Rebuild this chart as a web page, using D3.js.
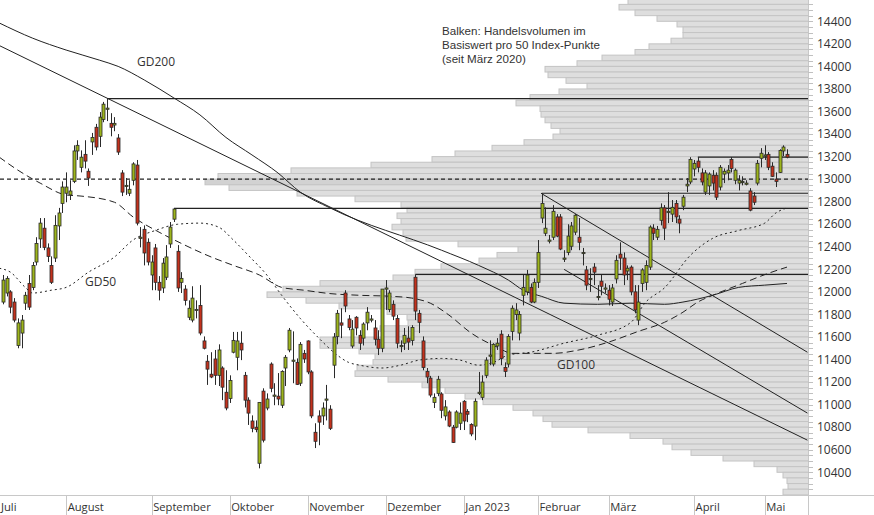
<!DOCTYPE html>
<html><head><meta charset="utf-8">
<script src="https://cdn.jsdelivr.net/npm/d3@7"></script>
<style>
body{margin:0;background:#fff}
svg{display:block}
text{font-family:"Open Sans","Noto Sans",sans-serif;fill:#333}
</style>
</head><body>
<svg id="chart" width="874" height="515"></svg>
<script>
// ---------- DATA ----------
const open  = [11910,11990,12000,11910,11525,11635,11900,12075,12040,12265,12470,12565,12390,12235,12300,12585,12785,12875,12860,12980,
13250,13105,13220,13070,13330,13460,13380,13530,13620,13495,13480,13365,13055,12940,12875,12990,13125,12475,12555,12440,
12150,12390,12085,12035,12130,12425,12645,12360,12085,12025,11775,11750,11840,11880,11565,11385,11270,11405,11260,11325,
11110,11055,11465,11420,11545,11260,11040,10855,10800,10480,11120,10970,11360,11075,11075,10995,11325,11485,11385,11375,
11190,11455,11565,11290,10755,10900,10900,11040,10960,11350,11605,11725,11990,11760,11520,11775,11615,11590,11725,11750,
11680,11580,11500,12025,11845,11890,11765,11520,11545,11590,11570,12130,11810,11565,11295,11235,11020,11100,11095,10900,
10935,10800,10800,10835,11030,10940,10825,10810,11100,11065,11260,11430,11360,11520,11625,11330,11360,11650,11800,11635,
11970,12000,12040,11910,12085,12655,12520,12450,12485,12665,12665,12290,12350,12405,12530,12485,12345,12195,12115,12220,
11955,12095,12025,12015,11910,12115,12335,12300,12185,12220,12000,11750,12075,12085,12220,12565,12485,12635,12745,12705,
12690,12785,12645,12760,12940,12975,13090,13160,13055,12885,12940,13035,13035,12930,13045,13055,13175,12990,12965,12975,
12960,12895,12850,12965,13185,13205,13220,13115,13000,13060,13250,13220];
const high  = [12150,12140,12015,11945,11765,11795,12000,12150,12265,12485,12655,12655,12430,12315,12680,12745,12980,13060,12990,13300,
13345,13255,13345,13095,13410,13490,13595,13685,13715,13585,13550,13400,13080,13010,12990,13150,13170,12575,12590,12475,
12325,12425,12140,12300,12415,12620,12740,12415,12175,12060,11925,12050,11925,12060,11605,11440,11465,11485,11535,11340,
11305,11260,11645,11645,11650,11290,11065,10905,10860,11020,11145,11100,11375,11190,11280,11305,11440,11680,11650,11410,
11555,11485,11570,11305,10835,10950,11020,11175,10995,11635,11840,11855,12015,11795,11750,11785,11660,11730,11865,11795,
11750,11660,12025,12105,12015,11925,11795,11570,11680,11695,11705,12155,11840,11605,11325,11255,11100,11255,11110,11040,
10950,10820,10950,11020,11040,10960,10835,11055,11290,11260,11420,11570,11545,11590,11660,11375,11625,11880,11900,11830,
12150,12195,12075,12120,12460,12875,12750,12505,12770,12690,12690,12370,12600,12620,12690,12655,12390,12230,12210,12255,
12060,12150,12075,12060,12070,12325,12440,12350,12235,12235,12060,12060,12210,12280,12590,12600,12585,12785,12770,12885,
12815,12815,12680,12860,13010,13195,13170,13195,13095,13080,13060,13080,13060,13125,13095,13125,13195,13095,13035,13025,
12990,12920,12885,13170,13275,13300,13240,13150,13060,13265,13300,13265];
const low   = [11890,11960,11810,11730,11500,11500,11840,11840,12015,12235,12390,12370,12265,12070,12265,12460,12700,12795,12815,12965,
13170,13060,13095,12940,13215,13255,13285,13505,13515,13380,13425,13215,12850,12860,12850,12945,12590,12395,12235,12235,
12015,12015,11925,11990,12105,12390,12620,12000,11990,11880,11750,11730,11765,11615,11490,11175,11235,11175,11165,11040,
10950,11015,11455,11305,11395,10975,10820,10755,10755,10435,10665,10950,11110,10995,10995,10970,11165,11465,11190,11175,
11165,11370,11270,10880,10615,10640,10820,10860,10775,11235,11535,11590,11820,11660,11500,11615,11485,11525,11660,11730,
11525,11440,11465,11840,11820,11750,11500,11465,11485,11485,11525,11750,11635,11305,11190,11065,10970,11075,10880,10860,
10800,10660,10790,10775,10775,10845,10720,10685,11085,11040,11235,11350,11340,11485,11350,11245,11330,11570,11750,11570,
11880,11970,11900,11900,12035,12610,12495,12430,12460,12485,12370,12265,12325,12370,12505,12370,12235,12015,12000,12060,
11925,11970,11990,11880,11875,12075,12195,12060,12105,11970,11810,11705,12000,12015,12195,12460,12460,12590,12460,12610,
12620,12610,12520,12725,12885,12955,13025,13060,12945,12860,12860,12900,12815,12900,12965,12990,13060,12955,12900,12945,
12945,12715,12770,12945,13105,13170,13080,13020,12930,13055,13205,13185];
const close = [12105,12120,11865,11750,11725,11750,11970,11865,12235,12430,12610,12395,12315,12085,12590,12700,12930,12930,12895,13250,
13300,13195,13160,13010,13370,13285,13550,13665,13630,13460,13495,13240,12885,12945,12910,13135,12610,12485,12345,12265,
12265,12085,12015,12255,12310,12575,12735,12035,12120,11925,11855,11945,11845,11635,11500,11315,11245,11260,11485,11155,
10970,11215,11570,11565,11485,11040,10925,10790,10780,11020,10685,11050,11145,11085,11050,11295,11420,11660,11395,11180,
11535,11405,11290,10900,10675,10845,10970,11050,10790,11600,11810,11705,11875,11685,11670,11680,11545,11715,11820,11760,
11580,11500,12025,12035,11990,11785,11545,11525,11615,11555,11685,11830,11730,11330,11245,11085,11065,11225,10950,10980,
10810,10665,10935,10925,10855,10915,10740,11030,11110,11200,11395,11440,11535,11545,11410,11295,11605,11855,11840,11800,
12040,12150,11910,12085,12350,12785,12565,12460,12715,12495,12380,12300,12495,12585,12680,12440,12350,12060,12120,12175,
11960,12050,12035,11935,12035,12280,12300,12150,12210,12000,11840,11910,12195,12235,12575,12520,12555,12745,12565,12715,
12750,12665,12610,12840,12955,13175,13140,13105,12975,13055,13045,12965,12840,13105,13070,13080,13095,13080,12990,12980,
12965,12725,12795,13140,13230,13215,13105,13025,12980,13255,13285,13195];

// month axis (index of first trading day of month)
const monthLabels = ["Juli","August","September","Oktober","November","Dezember","Jan 2023","Februar","März","April","Mai"];
const monthStart  = [-1,17,40,61,82,103,124,144,163,186,205];

// price axis labels
const yTickValues = d3.range(10400, 14401, 200);

// volume profile: lower bound of each 50-point band and relative volume
const volBand = [14550,14500,14450,14400,14350,14300,14250,14200,14150,14100,14050,14000,13950,13900,13850,13800,13750,13700,13650,13600,
13550,13500,13450,13400,13350,13300,13250,13200,13150,13100,13050,13000,12950,12900,12850,12800,12750,12700,12650,12600,
12550,12500,12450,12400,12350,12300,12250,12200,12150,12100,12050,12000,11950,11900,11850,11800,11750,11700,11650,11600,
11550,11500,11450,11400,11350,11300,11250,11200,11150,11100,11050,11000,10950,10900,10850,10800,10750,10700,10650,10600,
10550,10500,10450,10400,10350,10300,10250,10200];
const volume  = [180,189,173,151,131,125,125,137,159,173,206,231,263,260,242,221,249,278,292,268,
267,263,257,248,255,284,316,353,376,437,517,590,603,579,511,453,407,401,411,407,
416,405,402,350,290,311,329,367,393,415,488,525,541,502,469,421,401,400,428,425,
488,488,449,433,435,451,453,420,386,363,343,325,295,275,265,256,220,178,145,136,
117,85,54,31,25,21,20,25];

// moving averages read at sample indices
const gd200Idx = [-1,8,17,26,31,38,46,53,60,67,74,80,88,118,128,136,140,145,151,160,169,178,183,191,198,205,211];
const gd200Val = [14385,14250,14145,14055,14000,13880,13720,13570,13370,13215,13055,12885,12745,12370,12235,12105,12015,11960,11900,11890,11900,11890,11910,11970,12040,12060,12075];
const gd100Idx = [-1,4,10,17,21,30,35,42,48,56,62,69,75,81,88,96,105,110,115,120,126,133,137,148,155,163,171,178,183,187,191,199,206,211];
const gd100Val = [13195,13080,12965,12860,12850,12795,12665,12530,12430,12310,12235,12150,12040,12015,11985,11970,11960,11945,11900,11795,11635,11510,11455,11455,11485,11555,11650,11730,11820,11910,11970,12075,12165,12220];
const gd50Idx  = [-1,2,6,8,13,17,23,30,35,41,47,53,58,62,66,71,75,80,85,89,93,96,102,107,112,118,123,128,132,136,142,151,160,169,173,178,185,191,198,205,208,211];
const gd50Val  = [12210,12175,12040,11990,12015,12040,12175,12310,12460,12545,12600,12610,12575,12460,12325,12150,11970,11765,11590,11465,11375,11350,11325,11350,11395,11410,11395,11350,11375,11440,11465,11545,11615,11730,11910,12035,12325,12475,12545,12610,12700,12745];

// support / resistance lines
const hLevel   = [13715,12875,12740,13195,12155];
const hStart   = [28,145,46,187,111];
const markLevel = 13000;   // dashed reference line

// trend lines (start index, start value, end index, end value)
const trendStartIdx = [-1,144.8,151];
const trendStartVal = [14185,12875,12200];
const trendEndIdx   = [216.5,216.5,216.5];
const trendEndVal   = [10685,11465,10925];

// ---------- DRAW ----------
const svg = d3.select("#chart");
const W = 808, H = 495;          // plot right / bottom
const x = d3.scaleLinear().domain([0, 211]).range([3, 787]);
const y = d3.scaleLinear().domain([10400, 14400]).range([472.3, 21.3]);
const vx = d3.scaleLinear().domain([0, 808]).range([W, 0]);

svg.append("defs").append("clipPath").attr("id","plot")
  .append("rect").attr("x",0).attr("y",0).attr("width",W).attr("height",H);
const plot = svg.append("g").attr("clip-path","url(#plot)");

// volume profile bars
plot.append("g").selectAll("rect").data(volBand).join("rect")
  .attr("x", (d,i) => vx(volume[i]))
  .attr("y", d => y(d + 50))
  .attr("width", (d,i) => W - vx(volume[i]) + 2)
  .attr("height", d => y(d) - y(d + 50))
  .attr("fill", d => d === 12950 ? "#d2d2d2" : "#dedede")
  .attr("stroke", "#c4c4c4").attr("stroke-width", 1);

// dashed reference line
plot.append("line").attr("x1",0).attr("x2",W)
  .attr("y1", y(markLevel)).attr("y2", y(markLevel))
  .attr("stroke","#222").attr("stroke-width",1.1).attr("stroke-dasharray","4,3");

// horizontal support/resistance
plot.append("g").selectAll("line").data(hLevel).join("line")
  .attr("x1",(d,i)=>x(hStart[i])).attr("x2",W)
  .attr("y1",d=>y(d)).attr("y2",d=>y(d))
  .attr("stroke","#222").attr("stroke-width",1.2);

// trend lines
plot.append("g").selectAll("line").data(trendStartIdx).join("line")
  .attr("x1",(d,i)=>x(d)).attr("y1",(d,i)=>y(trendStartVal[i]))
  .attr("x2",(d,i)=>x(trendEndIdx[i])).attr("y2",(d,i)=>y(trendEndVal[i]))
  .attr("stroke","#222").attr("stroke-width",1);

// moving averages
function maLine(idx, val, dash){
  const pts = idx.map((d,i)=>[x(d), y(val[i])]);
  plot.append("path").attr("d", d3.line().curve(d3.curveMonotoneX)(pts))
    .attr("fill","none").attr("stroke","#222").attr("stroke-width",1)
    .attr("stroke-dasharray", dash);
}
maLine(gd200Idx, gd200Val, null);
maLine(gd100Idx, gd100Val, "7,4");
maLine(gd50Idx, gd50Val, "2,3");

// candles
const cg = plot.append("g");
const idxs = d3.range(open.length);
cg.selectAll("line").data(idxs).join("line")
  .attr("x1", i => Math.round(x(i)) + 0.5).attr("x2", i => Math.round(x(i)) + 0.5)
  .attr("y1", i => y(high[i])).attr("y2", i => y(low[i]))
  .attr("stroke","#2a2a2a").attr("stroke-width",1);
cg.selectAll("rect").data(idxs).join("rect")
  .attr("x", i => Math.round(x(i)) - 1)
  .attr("y", i => y(Math.max(open[i], close[i])))
  .attr("width", 3)
  .attr("height", i => Math.max(1.2, Math.abs(y(open[i]) - y(close[i]))))
  .attr("fill", i => close[i] >= open[i] ? "#9db51c" : "#c4321d")
  .attr("stroke","#2a2a2a").attr("stroke-width",0.8);

// MA labels
const lbl = [["GD200",137,62],["GD50",85,282],["GD100",557,365]];
svg.append("g").selectAll("text").data(lbl).join("text")
  .attr("x",d=>d[1]).attr("y",d=>d[2]).attr("dy","0.35em")
  .attr("font-size",12).text(d=>d[0]);

// note text
const note = ["Balken: Handelsvolumen im","Basiswert pro 50 Index-Punkte","(seit März 2020)"];
svg.append("g").selectAll("text").data(note).join("text")
  .attr("x",442).attr("y",(d,i)=>31 + i*14).attr("dy","0.35em")
  .style("font-family","'Liberation Sans',Arial,sans-serif")
  .attr("font-size",11.6).text(d=>d);

// right axis
svg.append("line").attr("x1",W+0.5).attr("x2",W+0.5).attr("y1",0).attr("y2",515)
  .attr("stroke","#c8c8c8");
const minor = d3.range(10250, 14601, 50);
svg.append("g").selectAll("line").data(minor).join("line")
  .attr("x1",W).attr("x2",W+5).attr("y1",d=>Math.round(y(d))+0.5).attr("y2",d=>Math.round(y(d))+0.5)
  .attr("stroke","#c0c0c0");
svg.append("g").selectAll("text").data(yTickValues).join("text")
  .attr("x", W + 9).attr("y", d => y(d)).attr("dy","0.35em")
  .attr("font-size",12).text(d => d);

// bottom axis
svg.append("line").attr("x1",0).attr("x2",874).attr("y1",H+0.5).attr("y2",H+0.5).attr("stroke","#c8c8c8");
svg.append("g").selectAll("line").data(monthStart).join("line")
  .attr("x1",d=>Math.round(x(d))+0.5).attr("x2",d=>Math.round(x(d))+0.5)
  .attr("y1",H).attr("y2",515).attr("stroke","#c8c8c8");
svg.append("g").selectAll("text").data(monthLabels).join("text")
  .attr("x",(d,i)=>Math.max(1, x(monthStart[i]) + 1.5)).attr("y",507).attr("dy","0.35em")
  .attr("font-size",11.2).text(d=>d);
</script>
</body></html>
